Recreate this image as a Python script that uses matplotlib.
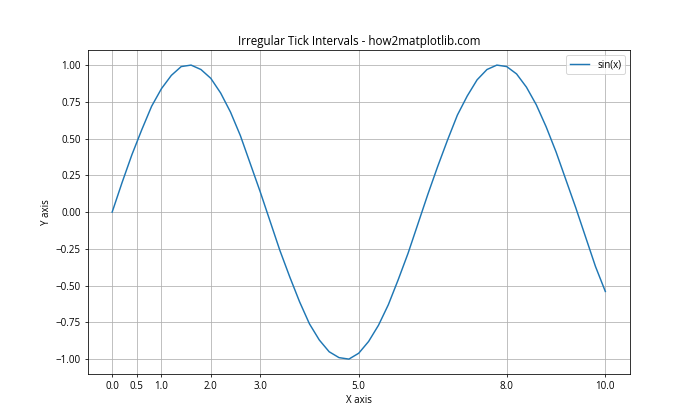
import matplotlib
matplotlib.use("Agg")
import matplotlib.pyplot as plt

plt.rcParams['font.family'] = ['Open Sans', 'DejaVu Sans']

x_values = [0.0, 0.2, 0.4, 0.6, 0.8, 1.0, 1.2, 1.4, 1.6, 1.8, 2.0, 2.2, 2.4, 2.6, 2.8,
            3.0, 3.2, 3.4, 3.6, 3.8, 4.0, 4.2, 4.4, 4.6, 4.8, 5.0, 5.2, 5.4, 5.6, 5.8,
            6.0, 6.2, 6.4, 6.6, 6.8, 7.0, 7.2, 7.4, 7.6, 7.8, 8.0, 8.2, 8.4, 8.6, 8.8,
            9.0, 9.2, 9.4, 9.6, 9.8, 10.0]
y_values = [0.00, 0.20, 0.39, 0.56, 0.72, 0.84, 0.93, 0.99, 1.00, 0.97, 0.91, 0.81, 0.68,
            0.52, 0.33, 0.14, -0.06, -0.26, -0.44, -0.61, -0.76, -0.87, -0.95, -0.99,
            -1.00, -0.96, -0.88, -0.77, -0.63, -0.46, -0.28, -0.08, 0.12, 0.31, 0.49,
            0.66, 0.79, 0.90, 0.97, 1.00, 0.99, 0.94, 0.85, 0.73, 0.58, 0.41, 0.22,
            0.03, -0.17, -0.37, -0.54]
x_ticks = [0, 0.5, 1, 2, 3, 5, 8, 10]

fig, ax = plt.subplots(figsize=(10, 6), dpi=70)
ax.plot(x_values, y_values, label='sin(x)')
ax.set_xticks(x_ticks)
ax.set_title('Irregular Tick Intervals - how2matplotlib.com')
ax.set_xlabel('X axis')
ax.set_ylabel('Y axis')
ax.legend()
ax.grid(True)
fig.savefig('out.png', dpi=70)
